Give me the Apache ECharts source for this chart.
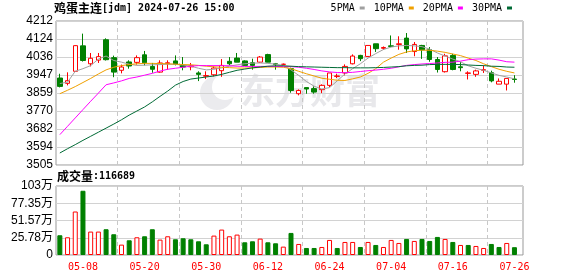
<!DOCTYPE html>
<html><head><meta charset="utf-8">
<script src="https://cdn.jsdelivr.net/npm/echarts@6/dist/echarts.min.js"></script>
<style>html,body{margin:0;padding:0;background:#fff}#c{width:578px;height:276px}</style>
</head><body><div id="c"></div>
<script>
const dates = ['04-30','05-06','05-07','05-08','05-09','05-10','05-13','05-14','05-15','05-16','05-17','05-20','05-21','05-22','05-23','05-24','05-27','05-28','05-29','05-30','05-31','06-03','06-04','06-05','06-06','06-07','06-11','06-12','06-13','06-14','06-17','06-18','06-19','06-20','06-21','06-24','06-25','06-26','06-27','06-28','07-01','07-02','07-03','07-04','07-05','07-08','07-09','07-10','07-11','07-12','07-15','07-16','07-17','07-18','07-19','07-22','07-23','07-24','07-25','07-26'];
const opens  = [3932,3906,3965,4090,4002,4020,4120,4032,3970,4011,4009,4046,3989,3961,4003,4016,3994,3987,3957,3941,3948,3968,4014,4030,4016,4007,4010,4047,4002,3999,3978,3855,3885,3880,3875,3896,3940,3957,4002,4043,4038,4100,4078,4090,4097,4128,4062,4092,4071,4023,3963,4043,3987,3955,3950,3970,3958,3902,3902,3927];
const closes = [3891,3919,4091,4018,4029,4037,4022,3961,3986,3991,4032,4007,3975,4006,4007,4000,3986,3992,3950,3944,3981,3994,4002,4010,3994,3994,4035,4010,3999,4000,3871,3871,3878,3863,3896,3957,3942,3989,4040,4027,4092,4076,4082,4087,4100,4075,4097,4070,4023,3974,4041,3974,3983,3957,3967,3973,3918,3916,3930,3925];
const lows   = [3886,3896,3962,4013,3989,4006,4018,3936,3955,3978,3998,3994,3958,3958,3973,3994,3970,3970,3917,3927,3940,3938,3994,4010,3991,3973,4006,4009,3973,3996,3860,3847,3855,3855,3858,3888,3932,3945,3999,4015,4036,4060,4071,4084,4071,4055,4039,4026,4012,3959,3959,3970,3965,3925,3938,3957,3911,3902,3871,3909];
const highs  = [3953,3960,4093,4150,4055,4055,4127,4042,3998,4019,4043,4065,4006,4019,4019,4043,4035,4006,3965,3965,3989,4025,4035,4055,4019,4027,4040,4051,4006,4003,3983,3876,3885,3891,3901,3957,3953,3999,4048,4046,4092,4100,4087,4141,4137,4153,4109,4095,4084,4035,4051,4051,4010,3965,3973,3994,3968,3930,3930,3946];
const ma5  = [3905,3912,3965,3978,3993,4025,4040,4018,4010,4000,3994,3995,3997,3998,4000,3999,3996,3990,3980,3972,3975,3982,3990,3997,4002,4005,4006,4004,4000,3994,3972,3945,3915,3892,3878,3885,3918,3952,3978,4002,4030,4052,4072,4084,4090,4092,4090,4086,4074,4055,4040,4025,4012,3992,3980,3970,3957,3945,3937,3928];
const ma10 = [3855,3872,3890,3910,3930,3952,3972,3985,3993,3998,4002,4004,4004,4003,4002,4000,3998,3997,3994,3990,3987,3985,3983,3981,3981,3982,3984,3986,3986,3985,3978,3965,3953,3942,3931,3926,3921,3920,3928,3937,3955,3978,4010,4030,4048,4060,4066,4069,4068,4064,4058,4050,4042,4030,4018,4002,3988,3975,3965,3957];
const ma20 = [3654,3695,3736,3777,3818,3858,3899,3908,3918,3930,3937,3946,3955,3966,3975,3980,3985,3990,3993,3993,3993,3993,3992,3990,3989,3989,3989,3989,3989,3988,3988,3985,3980,3974,3967,3962,3959,3958,3960,3964,3968,3971,3975,3980,3987,3994,3998,4001,4003,4006,4009,4010,4015,4022,4025,4026,4026,4020,4012,4010];
const ma30 = [3564,3585,3605,3626,3646,3666,3686,3706,3727,3750,3770,3790,3815,3842,3868,3897,3915,3927,3932,3937,3942,3950,3960,3970,3976,3982,3986,3990,3992,3992,3990,3988,3987,3986,3985,3984,3983,3983,3982,3982,3982,3983,3984,3986,3988,3992,3994,3995,3998,3999,3999,3999,3998,3996,3994,3993,3990,3989,3986,3985];
const volumes = [29.5,26.5,65,96,35,35,38.5,31,15.5,22,26.5,28,38.5,23,28,23.5,25,23.5,20.5,16,29,38,28,30.5,19,20.5,24.5,19,17.5,12.5,33,16.5,10.5,10.5,12,22.5,10.5,19.5,19.5,12,19.5,15,12,22.5,18,24,21,24,21,27,24,19.5,15,15,13.5,10.5,16.5,12,18,11.67];
const volUp = [0,1,1,0,1,1,0,0,1,0,1,0,0,1,1,0,0,0,0,0,1,1,1,1,0,0,1,0,0,1,0,1,0,0,1,1,0,1,1,0,1,0,1,1,1,0,1,0,0,0,1,0,1,0,1,1,0,0,1,0];
const priceTicks = ['3505','3594','3682','3770','3859','3947','4036','4124','4212'];
const volTicks = ['0','25.78万','51.57万','77.35万','103万'];
const labelDates = ['05-08','05-20','05-30','06-12','06-24','07-04','07-16','07-26'];
const priceMin = 3505, priceMax = 4212, volMax = 103.14;

const RED = '#ff0000', GREEN = '#008000';
const chart = echarts.init(document.getElementById('c'), null, {renderer: 'canvas'});
const mono = 'DejaVu Sans Mono';
const cjk = 'Noto Sans CJK SC';
const DATA_W = 462.3, FRAME_W = 467;
const SLOT = DATA_W / dates.length;
const firstLabel = dates.indexOf(labelDates[0]);
const labelStep = dates.indexOf(labelDates[1]) - firstLabel;
// frame x axis measured in slots, zero at the first labelled date
const frameMin = -0.5 - firstLabel, frameMax = frameMin + FRAME_W / SLOT;
const maSeries = [['5PMA', ma5, '#a0a0a0'], ['10PMA', ma10, '#f0a000'], ['20PMA', ma20, '#ff00ff'], ['30PMA', ma30, '#006a35']].map(([n, d, c]) => ({
  name: n, type: 'line', xAxisIndex: 1, yAxisIndex: 1, data: d, symbol: 'none', z: 4,
  itemStyle: {color: c}, lineStyle: {color: c, width: 1}, silent: true
}));
const frameX = (g) => ({gridIndex: g, type: 'value', min: frameMin, max: frameMax, interval: labelStep,
  axisLine: {show: false}, axisTick: {show: false}, axisLabel: {show: false},
  splitLine: {show: true, showMinLine: false, showMaxLine: false, lineStyle: {color: '#c8c8c8', width: 1, type: [4, 3]}}});
chart.setOption({
  animation: false,
  backgroundColor: '#fff',
  title: [
    {text: '{a|鸡蛋主连}{b|[jdm] 2024-07-26 15:00}', left: 54, top: 2, padding: 0,
     textStyle: {rich: {a: {fontFamily: cjk, fontSize: 12, color: '#000'}, b: {fontFamily: mono, fontSize: 10, color: '#000'}}}},
    {text: '{a|成交量}{b|:116689}', left: 57, top: 170, padding: 0,
     textStyle: {rich: {a: {fontFamily: cjk, fontSize: 12, color: '#000'}, b: {fontFamily: mono, fontSize: 10, color: '#000'}}}}
  ],
  legend: {
    data: ['5PMA', '10PMA', '20PMA', '30PMA'], right: 66, top: 3, align: 'right', icon: 'rect',
    itemWidth: 5, itemHeight: 3, itemGap: 9, padding: 0, selectedMode: false,
    textStyle: {fontFamily: mono, fontSize: 10, color: '#000'}
  },
  graphic: [
    {type: 'circle', z: -10, shape: {cx: 217, cy: 93, r: 17}, style: {fill: '#ebebee'}},
    {type: 'circle', z: -9, shape: {cx: 225, cy: 87, r: 13}, style: {fill: '#fff'}},
    {type: 'text', z: -10, left: 240, top: 73, style: {text: '东方财富', fontFamily: cjk, fontSize: 35, fontWeight: 'bold', fill: '#e8e8eb'}}
  ],
  grid: [
    {left: 56, width: FRAME_W, top: 21, height: 144, show: true, borderColor: '#999', borderWidth: 1},
    {left: 56, width: DATA_W, top: 21, height: 144},
    {left: 56, width: FRAME_W, top: 186, height: 69, show: true, borderColor: '#999', borderWidth: 1},
    {left: 56, width: DATA_W, top: 186, height: 69}
  ],
  xAxis: [
    frameX(0),
    {gridIndex: 1, type: 'category', data: dates, boundaryGap: true, axisLine: {show: false}, axisTick: {show: false}, axisLabel: {show: false}, splitLine: {show: false}},
    frameX(2),
    {gridIndex: 3, type: 'category', data: dates, boundaryGap: true, axisLine: {show: false}, axisTick: {show: false}, splitLine: {show: false},
     axisLabel: {interval: (i, v) => labelDates.includes(v), color: RED, fontFamily: mono, fontSize: 10, margin: 7}}
  ],
  yAxis: [
    {gridIndex: 0, type: 'value', min: 0, max: 8, interval: 1, axisLine: {show: false}, axisTick: {show: false},
     axisLabel: {formatter: v => priceTicks[v], fontFamily: 'Liberation Sans', fontSize: 12, color: '#000', margin: 3},
     splitLine: {lineStyle: {color: '#d2d2d2', width: 1}}},
    {gridIndex: 1, type: 'value', min: priceMin, max: priceMax, show: false},
    {gridIndex: 2, type: 'value', min: 0, max: 4, interval: 1, axisLine: {show: false}, axisTick: {show: false},
     axisLabel: {formatter: v => volTicks[v], fontFamily: 'Liberation Sans, ' + cjk, fontSize: 12, color: '#000', margin: 3},
     splitLine: {lineStyle: {color: '#d2d2d2', width: 1}}},
    {gridIndex: 3, type: 'value', min: 0, max: volMax, show: false}
  ],
  series: [
    {type: 'candlestick', xAxisIndex: 1, yAxisIndex: 1, barWidth: 5, z: 3, silent: true,
     data: opens.map((o, i) => [o, closes[i], lows[i], highs[i]]),
     itemStyle: {color: '#fff', color0: GREEN, borderColor: RED, borderColor0: GREEN, borderWidth: 1}},
    ...maSeries,
    {type: 'bar', xAxisIndex: 3, yAxisIndex: 3, barWidth: 5, z: 3, silent: true,
     data: volumes.map((v, i) => ({value: v, itemStyle: volUp[i] ? {color: '#fff', borderColor: RED, borderWidth: 1} : {color: GREEN, borderColor: GREEN, borderWidth: 1}}))}
  ]
});
</script></body></html>
